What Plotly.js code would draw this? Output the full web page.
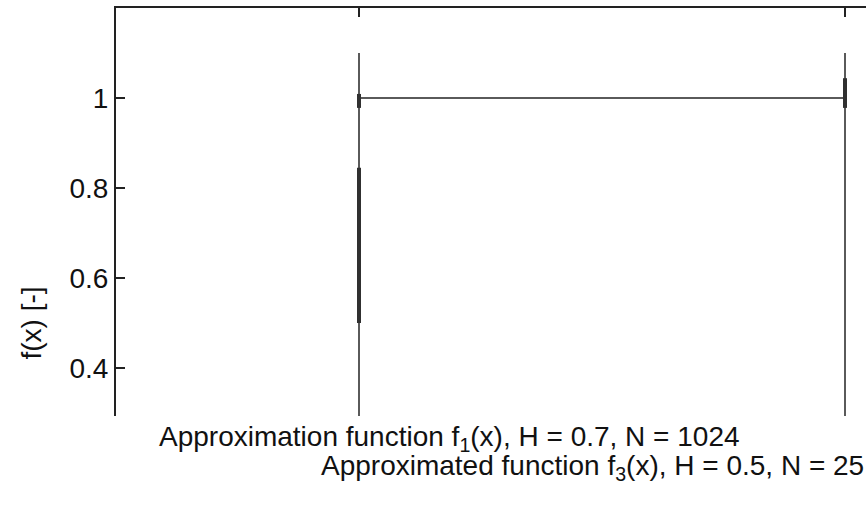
<!DOCTYPE html>
<html>
<head>
<meta charset="utf-8">
<script src="https://cdn.plot.ly/plotly-3.0.1.min.js"></script>
<style>
html, body { margin: 0; padding: 0; overflow: hidden; background: #fff; }
#chart { width: 1100px; height: 700px; }
</style>
</head>
<body>
<div id="chart"></div>
<script>
// ---- data ----
const xTicks = [0, 1];
const yTicks = [0.4, 0.6, 0.8, 1];
const yTickLabels = ["0.4", "0.6", "0.8", "1"];

// Approximated function f3 (thin line)
const f3X = [0, 0, 0, 1, 1, 1];
const f3Y = [0, 1.1, 1, 1, 1.1, 0];

// Approximation function f1 (thick segments)
const f1X = [0, 0, null, 0, 0, null, 1, 1];
const f1Y = [0.5, 0.845, null, 0.978, 1.009, null, 0.978, 1.044];

const legendLabels = [
  "Approximation function f<sub>1</sub>(x), H = 0.7, N = 1024",
  "Approximated function f<sub>3</sub>(x), H = 0.5, N = 25"
];
const yTitle = "f(x) [-]";

// ---- layout geometry ----
const W = 1100, H = 700;
const M = { l: 116, r: 12, t: 8, b: 62 };
const plotW = W - M.l - M.r, plotH = H - M.t - M.b;
const px2x = px => (px - M.l) / plotW;
const px2y = py => (H - M.b - py) / plotH;
const FONT = '"Liberation Sans", Arial, Helvetica, sans-serif';
const FS = 28;

const traces = [
  { x: f3X, y: f3Y, type: 'scatter', mode: 'lines', name: 'f3',
    line: { color: '#5a5a5a', width: 2 }, connectgaps: false, showlegend: false, hoverinfo: 'skip' },
  { x: f1X, y: f1Y, type: 'scatter', mode: 'lines', name: 'f1',
    line: { color: '#303030', width: 4 }, connectgaps: false, showlegend: false, hoverinfo: 'skip' }
];

const layout = {
  width: W, height: H,
  margin: M,
  paper_bgcolor: '#ffffff', plot_bgcolor: '#ffffff',
  font: { family: FONT, size: FS, color: '#111111' },
  showlegend: false,
  xaxis: {
    range: [-0.5, 1.5], tickvals: xTicks, showticklabels: false,
    ticks: 'inside', ticklen: 9, tickwidth: 2, tickcolor: '#222',
    showline: true, linecolor: '#222', linewidth: 2, mirror: 'ticks',
    showgrid: false, zeroline: false
  },
  yaxis: {
    range: [-0.2, 1.2], tickvals: yTicks, ticktext: yTickLabels,
    ticks: 'inside', ticklen: 9, tickwidth: 2, tickcolor: '#222',
    showline: true, linecolor: '#222', linewidth: 2, mirror: false,
    showgrid: false, zeroline: false,
    tickfont: { family: FONT, size: FS, color: '#111' },
    title: { text: yTitle, font: { family: FONT, size: FS, color: '#111' }, standoff: 20 }
  },
  shapes: [
    { type: 'rect', xref: 'paper', yref: 'paper', layer: 'above',
      x0: -0.2, x1: 1.05, y0: -0.2, y1: px2y(416),
      fillcolor: '#ffffff', line: { width: 0 } }
  ],
  annotations: [
    { xref: 'paper', yref: 'paper', x: px2x(157), y: px2y(438), xanchor: 'left', yanchor: 'middle',
      text: legendLabels[0], showarrow: false, font: { family: FONT, size: FS, color: '#111' } },
    { xref: 'paper', yref: 'paper', x: px2x(866), y: px2y(467), xanchor: 'right', yanchor: 'middle',
      text: legendLabels[1], showarrow: false, font: { family: FONT, size: FS, color: '#111' } }
  ]
};

Plotly.newPlot('chart', traces, layout, { staticPlot: true, displayModeBar: false });
</script>
</body>
</html>
